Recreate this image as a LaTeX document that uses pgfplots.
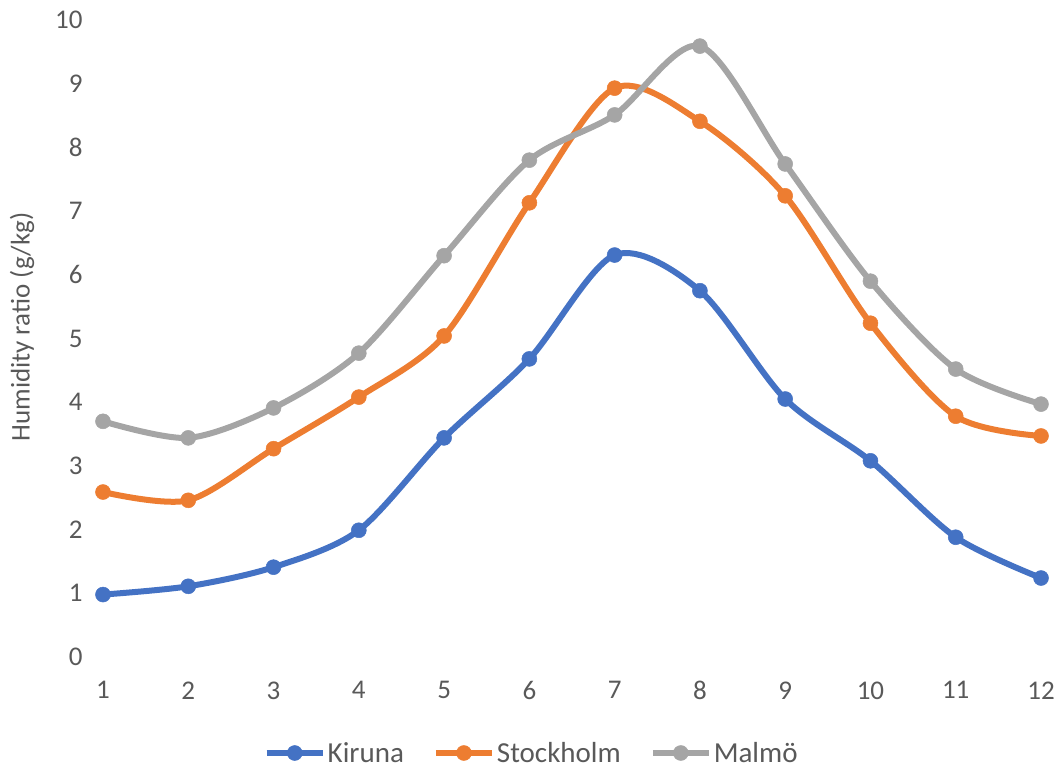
\documentclass[border=0pt]{standalone}
\usepackage{pgfplots}
\pgfplotsset{compat=1.18}
\usepackage{fontspec}
\setmainfont{Carlito}

\definecolor{kiruna}{HTML}{4472C4}
\definecolor{stockholm}{HTML}{ED7D31}
\definecolor{malmo}{HTML}{A5A5A5}
\definecolor{txt}{HTML}{595959}

\newcommand{\chartfont}{\fontsize{27}{32}\selectfont}
\newcommand{\legendfont}{\fontsize{29}{34}\selectfont}

\begin{document}
\begin{tikzpicture}[x=1pt,y=1pt]
\useasboundingbox (-103pt,-112pt) rectangle (956pt,657pt);
\begin{axis}[
  at={(0pt,0pt)}, anchor=south west,
  scale only axis,
  width=938pt, height=637pt,
  xmin=1, xmax=12, ymin=0, ymax=10,
  xtick={1,...,12}, ytick={0,...,10},
  clip=false,
  axis line style={draw=none},
  major tick length=0pt,
  tick style={draw=none},
  /pgf/number format/assume math mode=true,
  ticklabel style={font=\chartfont, text=txt},
  xticklabel style={anchor=north, yshift=-21pt},
  yticklabel style={anchor=east, xshift=-17pt},
  ylabel={Humidity ratio (g/kg)},
  ylabel style={font=\chartfont, text=txt, at={(axis description cs:-0.0864,0.518)}, anchor=center},
  legend columns=3,
  legend style={
    at={(axis description cs:0.457,-0.1507)}, anchor=center,
    draw=none, fill=none, font=\legendfont, text=txt,
    /tikz/every even column/.append style={column sep=27pt},
    nodes={inner xsep=2pt, inner ysep=2pt},
  },
  legend image code/.code={%
    \draw[mark repeat=2, mark phase=2] plot coordinates {(0pt,0pt) (28pt,0pt) (56pt,0pt)};},
  every axis plot/.append style={line width=6pt, smooth, tension=0.5, mark=*, mark size=7.5pt},
]
% monthly mean humidity ratio, g/kg
\addplot[color=kiruna, mark options={fill=kiruna, draw=kiruna, line width=0.5pt}] coordinates {
  (1,0.98) (2,1.11) (3,1.41) (4,1.99) (5,3.44) (6,4.68)
  (7,6.31) (8,5.75) (9,4.05) (10,3.08) (11,1.88) (12,1.24)};
\addlegendentry{Kiruna}
\addplot[color=stockholm, mark options={fill=stockholm, draw=stockholm, line width=0.5pt}] coordinates {
  (1,2.59) (2,2.46) (3,3.27) (4,4.08) (5,5.04) (6,7.13)
  (7,8.93) (8,8.41) (9,7.24) (10,5.24) (11,3.78) (12,3.47)};
\addlegendentry{Stockholm}
\addplot[color=malmo, mark options={fill=malmo, draw=malmo, line width=0.5pt}] coordinates {
  (1,3.70) (2,3.44) (3,3.91) (4,4.77) (5,6.30) (6,7.80)
  (7,8.51) (8,9.59) (9,7.74) (10,5.90) (11,4.52) (12,3.97)};
\addlegendentry{Malmö}
\end{axis}
\end{tikzpicture}
\end{document}
